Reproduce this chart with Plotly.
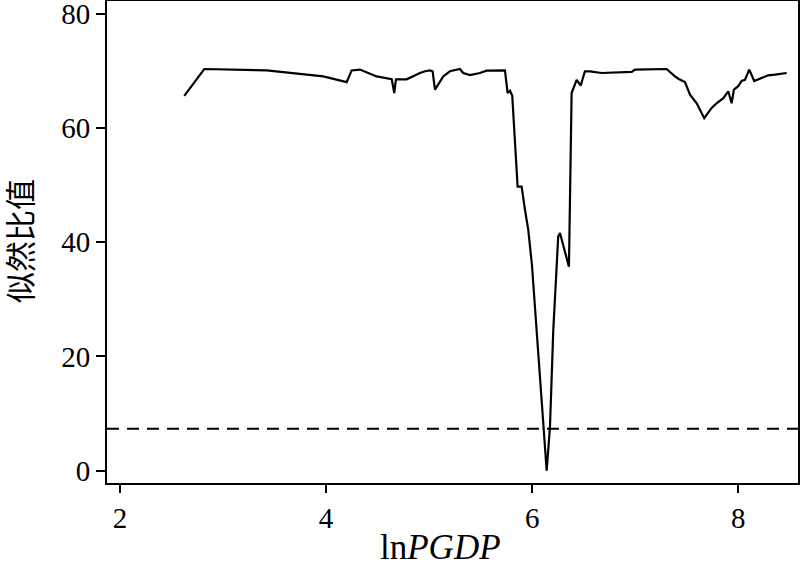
import plotly.graph_objects as go

# Threshold variable values (lnPGDP)
lnpgdp = [2.624, 2.818, 3.424, 3.569, 3.973, 4.200, 4.248, 4.329, 4.426, 4.491,
          4.637, 4.662, 4.678, 4.782, 4.911, 4.960, 5.008, 5.034, 5.057, 5.137,
          5.202, 5.299, 5.331, 5.397, 5.493, 5.558, 5.736, 5.762, 5.785, 5.807,
          5.859, 5.898, 5.930, 5.962, 5.998, 6.044, 6.076, 6.141, 6.173, 6.205,
          6.253, 6.270, 6.357, 6.364, 6.383, 6.432, 6.471, 6.512, 6.561, 6.674,
          6.966, 6.998, 7.046, 7.305, 7.386, 7.418, 7.483, 7.532, 7.597, 7.628,
          7.670, 7.742, 7.790, 7.855, 7.903, 7.936, 7.958, 8.000, 8.033, 8.065,
          8.107, 8.155, 8.211, 8.291, 8.356, 8.470]

# Likelihood ratio statistic
lr = [65.6, 70.3, 70.05, 69.8, 69.0, 68.0, 70.05, 70.2, 69.5, 69.0,
      68.5, 66.1, 68.5, 68.5, 69.6, 69.9, 70.05, 69.9, 66.7, 69.0,
      69.9, 70.3, 69.6, 69.25, 69.6, 70.0, 70.05, 66.1, 66.5, 65.6,
      49.7, 49.7, 45.7, 42.2, 36.0, 24.6, 15.0, 0.0, 7.7, 24.6,
      41.0, 41.6, 35.7, 45.1, 66.1, 68.4, 67.4, 69.9, 69.9, 69.6,
      69.8, 70.2, 70.2, 70.3, 69.0, 68.6, 68.0, 65.8, 64.3, 63.2,
      61.7, 63.5, 64.3, 65.2, 66.4, 64.3, 66.7, 67.3, 68.2, 68.4,
      70.2, 68.2, 68.6, 69.2, 69.3, 69.6]

critical_value = 7.35
x_range = [1.874, 8.58]
y_range = [-2.15, 82.2]
x_ticks = [2, 4, 6, 8]
y_ticks = [0, 20, 40, 60, 80]

serif = "Liberation Serif, Times New Roman, serif"
cjk = "Noto Sans CJK SC, sans-serif"

fig = go.Figure()
fig.add_trace(go.Scatter(
    x=x_range, y=[critical_value, critical_value], mode="lines",
    line=dict(color="black", width=2, dash="12px,8px"),
    hoverinfo="skip", showlegend=False))
fig.add_trace(go.Scatter(
    x=lnpgdp, y=lr, mode="lines",
    line=dict(color="black", width=2.2),
    showlegend=False))

fig.update_layout(
    width=800, height=568,
    margin=dict(l=107, r=2, t=1, b=85),
    plot_bgcolor="white", paper_bgcolor="white",
    font=dict(family=serif, size=28, color="black"),
)
fig.update_xaxes(
    range=x_range, tickvals=x_ticks, ticks="outside", ticklen=8, tickwidth=2,
    tickcolor="black", showline=True, linecolor="black", linewidth=2, mirror=True,
    showgrid=False, zeroline=False, automargin=False, ticklabeloverflow="allow",
    tickfont=dict(family=serif, size=29),
)
fig.update_yaxes(
    range=y_range, tickvals=y_ticks, ticks="outside", ticklen=9, tickwidth=2,
    tickcolor="black", showline=True, linecolor="black", linewidth=2, mirror=True,
    showgrid=False, zeroline=False, automargin=False, ticklabeloverflow="allow",
    tickfont=dict(family=serif, size=29),
)

fig.add_annotation(
    text="ln<i>PGDP</i>", xref="paper", yref="paper",
    x=(440 - 107) / 691, y=(483 - 547) / 482,
    xanchor="center", yanchor="middle", showarrow=False,
    font=dict(family=serif, size=35, color="black"))
fig.add_annotation(
    text="似然比值", xref="paper", yref="paper",
    x=(18 - 107) / 691, y=(483 - 241) / 482, textangle=-90,
    xanchor="center", yanchor="middle", showarrow=False,
    font=dict(family=cjk, size=31, color="black"))

fig.write_html(
    "out.html",
    config={"displayModeBar": False},
    post_script="document.body.style.margin='0';document.body.style.padding='0';",
)
